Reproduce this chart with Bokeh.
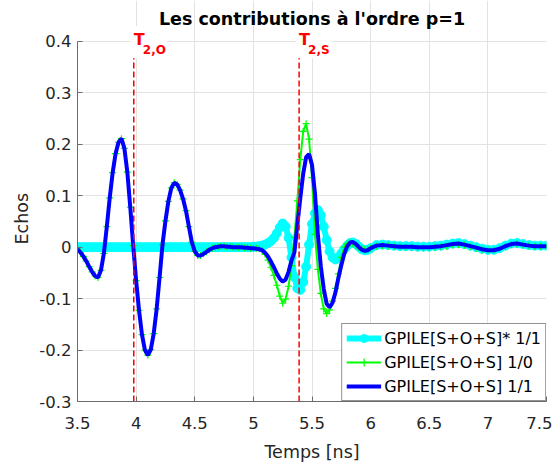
from bokeh.plotting import figure
from bokeh.models import (ColumnDataSource, Legend, LegendItem, Label, BoxAnnotation,
                          FixedTicker, CustomJSTickFormatter, Title)
from bokeh.embed import file_html
from bokeh.resources import INLINE

# ---------------- data ----------------
time_ns = [
    3.500, 3.525, 3.550, 3.575, 3.600, 3.625, 3.650, 3.675, 3.700, 3.725,
    3.750, 3.775, 3.800, 3.825, 3.850, 3.875, 3.900, 3.925, 3.950, 3.975,
    4.000, 4.025, 4.050, 4.075, 4.100, 4.125, 4.150, 4.175, 4.200, 4.225,
    4.250, 4.275, 4.300, 4.325, 4.350, 4.375, 4.400, 4.425, 4.450, 4.475,
    4.500, 4.525, 4.550, 4.575, 4.600, 4.625, 4.650, 4.675, 4.700, 4.725,
    4.750, 4.775, 4.800, 4.825, 4.850, 4.875, 4.900, 4.925, 4.950, 4.975,
    5.000, 5.025, 5.050, 5.075, 5.100, 5.125, 5.150, 5.175, 5.200, 5.225,
    5.250, 5.275, 5.300, 5.325, 5.350, 5.375, 5.400, 5.425, 5.450, 5.475,
    5.500, 5.525, 5.550, 5.575, 5.600, 5.625, 5.650, 5.675, 5.700, 5.725,
    5.750, 5.775, 5.800, 5.825, 5.850, 5.875, 5.900, 5.925, 5.950, 5.975,
    6.000, 6.05, 6.10, 6.15, 6.20, 6.25, 6.30, 6.35, 6.40, 6.45,
    6.50, 6.55, 6.60, 6.65, 6.70, 6.75, 6.80, 6.85, 6.90, 6.95,
    7.00, 7.05, 7.10, 7.15, 7.20, 7.25, 7.30, 7.35, 7.40, 7.45, 7.50,
]

# GPILE[S+O+S] 1/1 (blue)
echo_11 = [
    -0.004, -0.010, -0.018, -0.027, -0.038, -0.048, -0.056, -0.059, -0.045, -0.012,
    0.040, 0.096, 0.145, 0.182, 0.204, 0.211, 0.192, 0.146, 0.078, 0.003,
    -0.065, -0.123, -0.170, -0.200, -0.210, -0.199, -0.168, -0.120, -0.059, 0.005,
    0.051, 0.089, 0.115, 0.125, 0.122, 0.111, 0.094, 0.071, 0.040, 0.010,
    -0.008, -0.016, -0.016, -0.013, -0.009, -0.005, -0.002, 0.000, 0.001, 0.002,
    0.002, 0.001, 0.001, 0.000, 0.000, 0.000, 0.000, -0.001, -0.001, -0.002,
    -0.002, -0.003, -0.004, -0.006, -0.011, -0.018, -0.028, -0.039, -0.051, -0.061,
    -0.067, -0.063, -0.048, -0.026, -0.010, 0.043, 0.095, 0.143, 0.175, 0.181,
    0.160, 0.105, 0.025, -0.037, -0.081, -0.110, -0.117, -0.108, -0.088, -0.060,
    -0.035, -0.013, 0.002, 0.009, 0.010, 0.006, 0.000, -0.005, -0.007, -0.006,
    -0.002, 0.003, 0.004, 0.003, 0.002, 0.001, 0.001, 0.001, 0.000, 0.000,
    0.000, 0.001, 0.002, 0.004, 0.006, 0.007, 0.005, 0.002, -0.001, -0.004,
    -0.006, -0.006, -0.003, 0.002, 0.006, 0.007, 0.005, 0.003, 0.002, 0.002, 0.002,
]

# GPILE[S+O+S] 1/0 (green)
echo_10 = [
    -0.004, -0.010, -0.018, -0.027, -0.038, -0.048, -0.056, -0.059, -0.045, -0.012,
    0.040, 0.096, 0.145, 0.182, 0.204, 0.211, 0.192, 0.146, 0.078, 0.003,
    -0.065, -0.123, -0.170, -0.200, -0.210, -0.199, -0.168, -0.120, -0.059, 0.005,
    0.051, 0.089, 0.115, 0.125, 0.122, 0.111, 0.094, 0.071, 0.040, 0.010,
    -0.008, -0.016, -0.016, -0.013, -0.009, -0.005, -0.002, 0.000, 0.001, 0.002,
    0.002, 0.001, 0.001, 0.000, 0.000, 0.000, 0.000, -0.001, -0.001, -0.002,
    -0.002, -0.002, -0.003, -0.007, -0.014, -0.025, -0.039, -0.055, -0.074, -0.095,
    -0.109, -0.101, -0.076, -0.036, 0.019, 0.090, 0.170, 0.225, 0.240, 0.210,
    0.135, 0.025, -0.043, -0.090, -0.120, -0.129, -0.122, -0.105, -0.080, -0.052,
    -0.020, 0.000, 0.007, 0.008, 0.006, 0.003, 0.000, -0.003, -0.005, -0.004,
    -0.002, 0.002, 0.003, 0.003, 0.002, 0.001, 0.000, 0.000, -0.001, -0.001,
    -0.001, 0.000, 0.001, 0.002, 0.004, 0.005, 0.004, 0.001, -0.002, -0.005,
    -0.006, -0.006, -0.003, 0.001, 0.005, 0.006, 0.005, 0.003, 0.002, 0.002, 0.002,
]

# GPILE[S+O+S]* 1/1 (cyan)
echo_star = [
    0.000, 0.000, 0.000, 0.000, 0.000, 0.000, 0.000, 0.000, 0.000, 0.000,
    0.000, 0.000, 0.000, 0.000, 0.000, 0.000, 0.000, 0.000, 0.000, 0.000,
    0.000, 0.000, 0.000, 0.000, 0.000, 0.000, 0.000, 0.000, 0.000, 0.000,
    0.000, 0.000, 0.000, 0.000, 0.000, 0.000, 0.000, 0.000, 0.000, 0.000,
    0.000, 0.000, 0.000, 0.000, 0.000, 0.000, 0.000, 0.000, 0.000, 0.000,
    0.000, 0.000, 0.000, 0.000, 0.000, 0.000, 0.000, 0.000, 0.000, 0.000,
    0.001, 0.001, 0.002, 0.003, 0.005, 0.008, 0.012, 0.018, 0.027, 0.038,
    0.046, 0.040, 0.018, -0.020, -0.058, -0.080, -0.083, -0.068, -0.038, 0.005,
    0.045, 0.066, 0.072, 0.062, 0.040, 0.014, -0.008, -0.020, -0.024, -0.020,
    -0.012, -0.004, 0.003, 0.008, 0.009, 0.006, 0.001, -0.004, -0.006, -0.005,
    -0.002, 0.004, 0.005, 0.004, 0.003, 0.002, 0.002, 0.002, 0.001, 0.001,
    0.001, 0.002, 0.003, 0.005, 0.007, 0.008, 0.006, 0.003, 0.000, -0.003,
    -0.005, -0.005, -0.002, 0.003, 0.007, 0.008, 0.006, 0.004, 0.003, 0.003, 0.003,
]

chart_title = "Les contributions à l'ordre p=1"
x_label = "Temps [ns]"
y_label = "Echos"
series_labels = ["GPILE[S+O+S]* 1/1", "GPILE[S+O+S] 1/0", "GPILE[S+O+S] 1/1"]
t_marks = [3.98, 5.39]
t_subscripts = ["2,O", "2,S"]
x_ticks = [3.5, 4.0, 4.5, 5.0, 5.5, 6.0, 6.5, 7.0, 7.5]
y_ticks = [-0.3, -0.2, -0.1, 0.0, 0.1, 0.2, 0.3, 0.4]

# ---------------- figure ----------------
FONT = "DejaVu Sans"
TXT = "#262626"
AX = "#6b6b6b"
GRID = "#e2e2e2"

x_lo, x_hi = x_ticks[0], x_ticks[-1]
y_lo, y_hi = y_ticks[0], y_ticks[-1]
# head room above the axes box (for the title and the T labels), in data units
y_top = y_hi + 0.0795

src = ColumnDataSource(dict(t=time_ns, star=echo_star, e10=echo_10, e11=echo_11))

p = figure(width=552, height=464, output_backend="svg", toolbar_location=None,
           x_range=(x_lo, x_hi), y_range=(y_lo, y_top),
           min_border_left=77, min_border_right=6, min_border_top=0, min_border_bottom=62)

p.outline_line_color = None
p.background_fill_color = "white"
p.border_fill_color = "white"

fmt = CustomJSTickFormatter(code="return String(Math.round(tick*10)/10);")
for ax, ticks, bnds in ((p.xaxis[0], x_ticks, (x_lo, x_hi)),
                        (p.yaxis[0], y_ticks, (y_lo, y_hi))):
    ax.ticker = FixedTicker(ticks=ticks)
    ax.formatter = fmt
    ax.bounds = bnds
    ax.axis_label_text_font = FONT
    ax.axis_label_text_font_size = "17.5px"
    ax.axis_label_text_font_style = "normal"
    ax.axis_label_text_color = TXT
    ax.major_label_text_font = FONT
    ax.major_label_text_font_size = "16.5px"
    ax.major_label_text_color = TXT
    ax.axis_line_color = AX
    ax.major_tick_line_color = AX
    ax.major_tick_in = 5
    ax.major_tick_out = 0
    ax.minor_tick_line_color = None
p.xaxis.axis_label = x_label
p.xaxis.major_label_standoff = 15
p.xaxis.axis_label_standoff = 10
p.yaxis.major_label_standoff = 6

# y label, centred on the axes box (not on the frame with its head room)
y_title = Title(text=y_label, align="left", offset=157, standoff=10,
                text_font=FONT, text_font_size="17.5px", text_font_style="normal",
                text_color=TXT)
p.add_layout(y_title, "left")

p.xgrid.grid_line_color = GRID
p.ygrid.grid_line_color = GRID
p.xgrid.bounds = (y_lo, y_hi)

# curves
c_line = p.line("t", "star", source=src, line_color="#00ffff", line_width=6)
c_mark = p.scatter("t", "star", source=src, marker="circle", size=9,
                   fill_color="#00ffff", line_color="#00ffff")
g_line = p.line("t", "e10", source=src, line_color="#00ff00", line_width=2)
g_mark = p.scatter("t", "e10", source=src, marker="cross", size=7,
                   line_color="#00ff00", line_width=1.2)
b_line = p.line("t", "e11", source=src, line_color="#0000ff", line_width=4)

# T markers: dashed vertical lines over the axes height
p.segment(x0=t_marks, y0=[y_lo] * len(t_marks), x1=t_marks, y1=[y_hi] * len(t_marks),
          line_color="#ff0000", line_width=1.5, line_dash="6 3")
for tm, sub in zip(t_marks, t_subscripts):
    p.add_layout(BoxAnnotation(left=tm - 0.025, right=tm + 0.28, bottom=0.367, top=0.43,
                               fill_color="white", fill_alpha=1.0, line_color=None))
    p.add_layout(Label(x=tm, y=0.404, text="T", text_font=FONT, text_font_style="bold",
                       text_font_size="16px", text_color="#ff0000",
                       text_baseline="alphabetic", text_align="left"))
    p.add_layout(Label(x=tm, y=0.383, x_offset=9, text=sub, text_font=FONT,
                       text_font_style="bold", text_font_size="12px", text_color="#ff0000",
                       text_baseline="alphabetic", text_align="left"))

# title, centred over the axes box
p.add_layout(Label(x=(x_lo + x_hi) / 2, y=0.444, text=chart_title, text_font=FONT,
                   text_font_style="bold", text_font_size="17.5px", text_color="black",
                   text_baseline="alphabetic", text_align="center"))

legend = Legend(items=[
    LegendItem(label=series_labels[0], renderers=[c_line, c_mark]),
    LegendItem(label=series_labels[1], renderers=[g_line, g_mark]),
    LegendItem(label=series_labels[2], renderers=[b_line]),
], location="bottom_right", margin=0, padding=4, spacing=4,
    glyph_width=35, glyph_height=20, label_height=20, label_standoff=3,
    border_line_color=TXT, border_line_width=1, background_fill_color="white",
    background_fill_alpha=1.0, label_text_font=FONT, label_text_font_size="16px",
    label_text_color="black")
p.add_layout(legend)

open("out.html", "w").write(file_html(p, INLINE))
